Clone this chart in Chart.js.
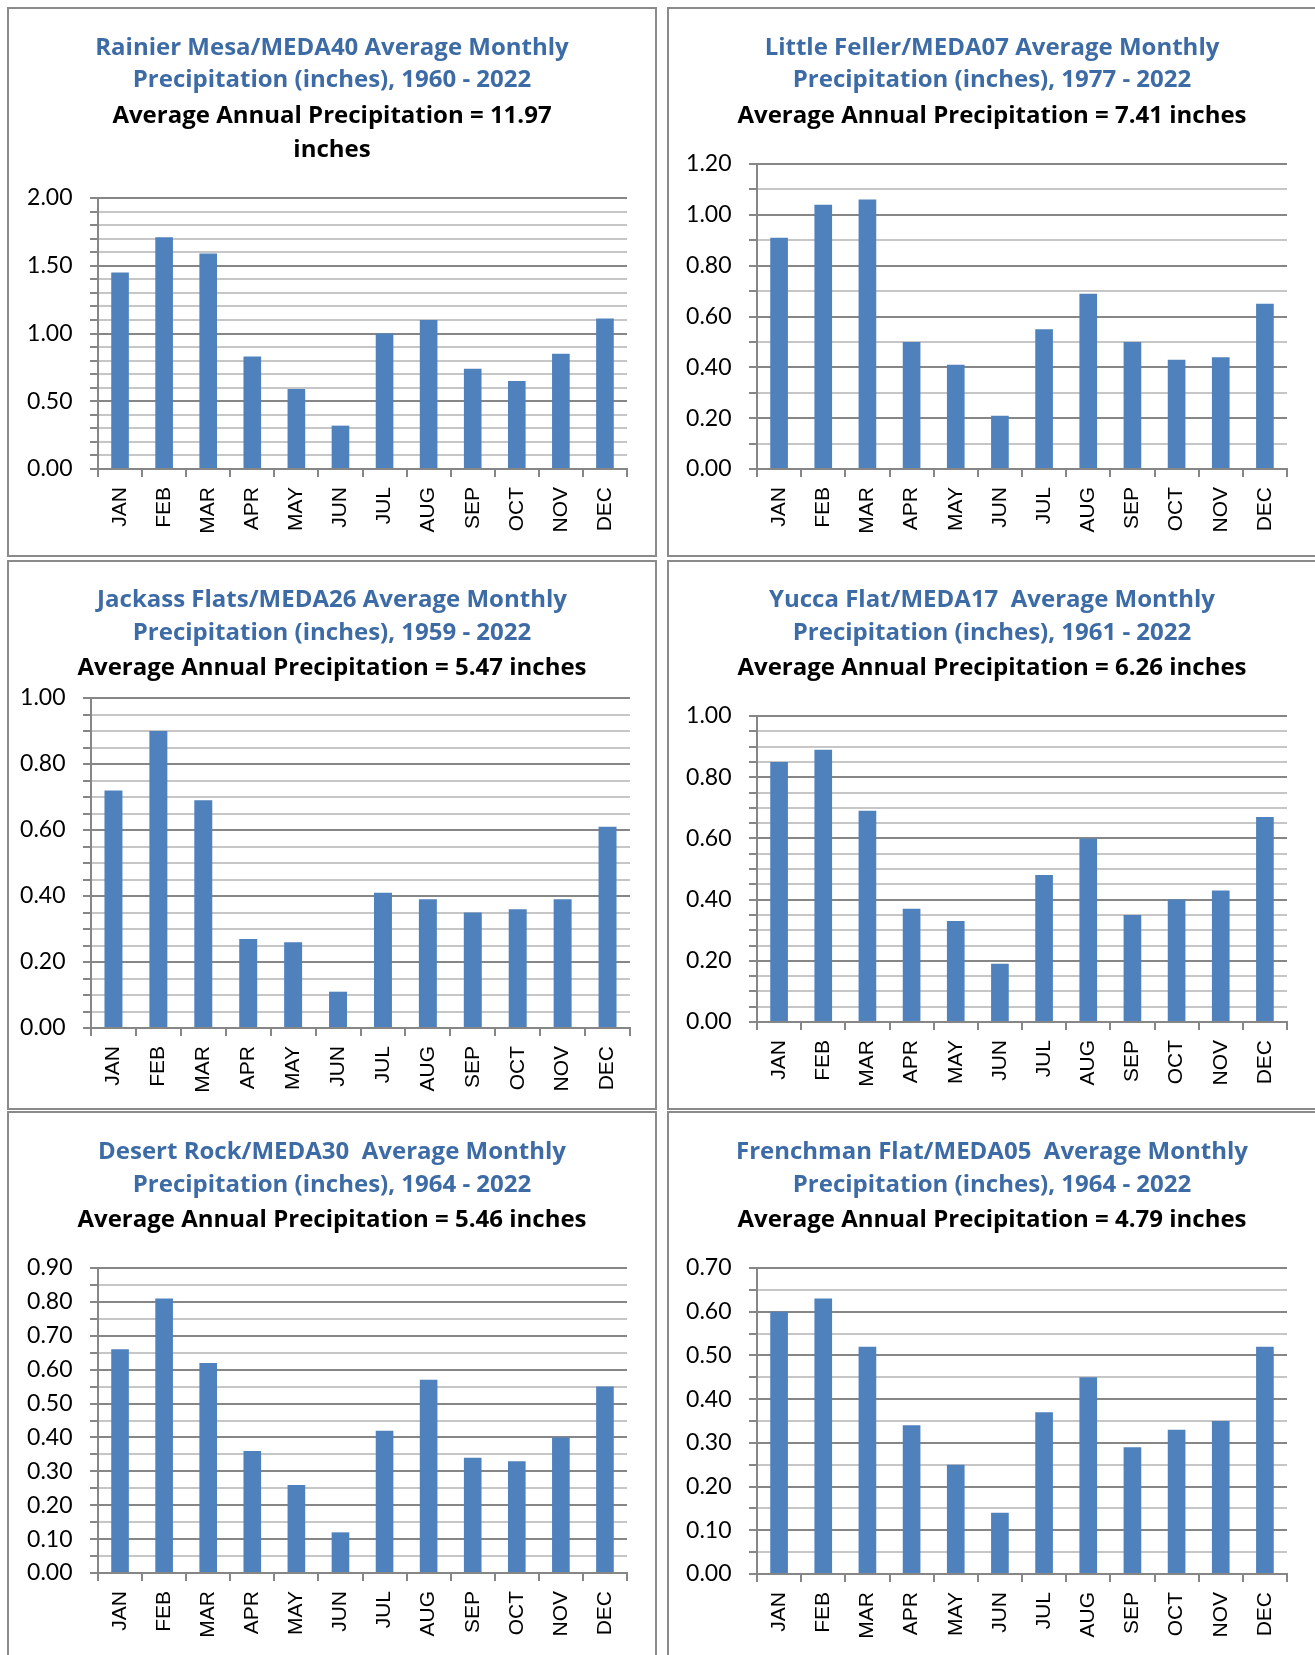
<!DOCTYPE html>
<html>
<head>
<meta charset="utf-8">
<script src="https://cdn.jsdelivr.net/npm/chart.js@4.4.0/dist/chart.umd.min.js"></script>
<style>
  html, body { margin: 0; padding: 0; background: #fff; width: 1315px; height: 1655px; overflow: hidden; }
  .painel { position: absolute; width: 646px; height: 546px; border: 2px solid #8a8a8a; background: #fff; }
  .painel canvas { display: block; }
</style>
</head>
<body>
<div class="painel" style="left:7px;top:7px"><canvas id="g0" width="646" height="546"></canvas></div>
<div class="painel" style="left:667px;top:7px"><canvas id="g1" width="646" height="546"></canvas></div>
<div class="painel" style="left:7px;top:560px"><canvas id="g2" width="646" height="546"></canvas></div>
<div class="painel" style="left:667px;top:560px"><canvas id="g3" width="646" height="546"></canvas></div>
<div class="painel" style="left:7px;top:1111px"><canvas id="g4" width="646" height="546"></canvas></div>
<div class="painel" style="left:667px;top:1111px"><canvas id="g5" width="646" height="546"></canvas></div>
<script>
// Meses (categorias)
const meses = ["JAN", "FEB", "MAR", "APR", "MAY", "JUN", "JUL", "AUG", "SEP", "OCT", "NOV", "DEC"];

// Precipitação média mensal (polegadas) por estação
const rainierMesa = [1.45, 1.71, 1.59, 0.83, 0.59, 0.32, 1.00, 1.10, 0.74, 0.65, 0.85, 1.11];
const littleFeller = [0.91, 1.04, 1.06, 0.50, 0.41, 0.21, 0.55, 0.69, 0.50, 0.43, 0.44, 0.65];
const jackassFlats = [0.72, 0.90, 0.69, 0.27, 0.26, 0.11, 0.41, 0.39, 0.35, 0.36, 0.39, 0.61];
const yuccaFlat = [0.85, 0.89, 0.69, 0.37, 0.33, 0.19, 0.48, 0.60, 0.35, 0.40, 0.43, 0.67];
const desertRock = [0.66, 0.81, 0.62, 0.36, 0.26, 0.12, 0.42, 0.57, 0.34, 0.33, 0.40, 0.55];
const frenchmanFlat = [0.60, 0.63, 0.52, 0.34, 0.25, 0.14, 0.37, 0.45, 0.29, 0.33, 0.35, 0.52];

// Títulos
const titulos = [
  ["Rainier Mesa/MEDA40 Average Monthly", "Precipitation (inches), 1960 - 2022"],
  ["Little Feller/MEDA07 Average Monthly", "Precipitation (inches), 1977 - 2022"],
  ["Jackass Flats/MEDA26 Average Monthly", "Precipitation (inches), 1959 - 2022"],
  ["Yucca Flat/MEDA17  Average Monthly", "Precipitation (inches), 1961 - 2022"],
  ["Desert Rock/MEDA30  Average Monthly", "Precipitation (inches), 1964 - 2022"],
  ["Frenchman Flat/MEDA05  Average Monthly", "Precipitation (inches), 1964 - 2022"],
];
const subtitulos = [
  ["Average Annual Precipitation = 11.97", "inches"],
  ["Average Annual Precipitation = 7.41 inches"],
  ["Average Annual Precipitation = 5.47 inches"],
  ["Average Annual Precipitation = 6.26 inches"],
  ["Average Annual Precipitation = 5.46 inches"],
  ["Average Annual Precipitation = 4.79 inches"],
];

// Eixo Y: máximo, passo principal (rótulos) e passo secundário
const eixoMax = [2.0, 1.2, 1.0, 1.0, 0.9, 0.7];
const passoMaior = [0.5, 0.2, 0.2, 0.2, 0.1, 0.1];
const passoMenor = [0.1, 0.1, 0.05, 0.05, 0.05, 0.05];

const series = [rainierMesa, littleFeller, jackassFlats, yuccaFlat, desertRock, frenchmanFlat];

// Geometria da área de plotagem (coordenadas do canvas)
const geometria = [
  { esq: 89, dir: 618, topo: 189, base: 460, t1: 39.4 },
  { esq: 88, dir: 618, topo: 155, base: 460, t1: 39.4 },
  { esq: 82, dir: 621, topo: 136, base: 466, t1: 38.6 },
  { esq: 88, dir: 618, topo: 154, base: 460, t1: 38.6 },
  { esq: 89, dir: 618, topo: 155, base: 460, t1: 39.6 },
  { esq: 88, dir: 618, topo: 155, base: 461, t1: 39.6 },
];

const LARGURA = 646;
const ALTURA = 546;
const corBarra = "#4f81bd";
const corTitulo = "#3d6ba6";
const corEixo = "#868686";
const corMenor = "#c6c6c6";
const FONTE_TITULO = 24;
const TITULO_LH = 32.2;
const SUB_LH = 34;

function criarGrafico(i) {
  const g = geometria[i];
  const maior = passoMaior[i];
  const ehMaior = (v) => Math.abs(v / maior - Math.round(v / maior)) < 1e-6;
  const padTitulo = g.t1 - TITULO_LH / 2;
  const fimTitulo = padTitulo + TITULO_LH * titulos[i].length;
  const inicioSub = g.t1 + 68 - SUB_LH / 2;
  const fimSub = inicioSub + SUB_LH * subtitulos[i].length;

  return new Chart(document.getElementById("g" + i), {
    type: "bar",
    data: {
      labels: meses,
      datasets: [
        {
          data: series[i],
          backgroundColor: corBarra,
          borderWidth: 0,
          barPercentage: 0.4,
          categoryPercentage: 1.0,
        },
      ],
    },
    options: {
      responsive: false,
      animation: false,
      layout: { padding: 0 },
      plugins: {
        legend: { display: false },
        tooltip: { enabled: false },
        title: {
          display: true,
          text: titulos[i],
          color: corTitulo,
          font: { family: "Open Sans", size: FONTE_TITULO, weight: "bold", lineHeight: TITULO_LH / FONTE_TITULO },
          padding: { top: padTitulo, bottom: 0 },
        },
        subtitle: {
          display: true,
          text: subtitulos[i],
          color: "#000",
          font: { family: "Open Sans", size: FONTE_TITULO, weight: "bold", lineHeight: SUB_LH / FONTE_TITULO },
          padding: { top: inicioSub - fimTitulo, bottom: g.topo - fimSub },
        },
      },
      scales: {
        x: {
          offset: true,
          grid: {
            offset: true,
            drawOnChartArea: false,
            drawTicks: true,
            tickLength: 8,
            color: corEixo,
            lineWidth: 2,
          },
          border: { color: corEixo, width: 2 },
          ticks: {
            color: "#000",
            font: { family: "Liberation Sans", size: 21 },
            minRotation: 90,
            maxRotation: 90,
            autoSkip: false,
            padding: 10,
          },
          afterFit: (s) => { s.height = ALTURA - g.base; },
        },
        y: {
          min: 0,
          max: eixoMax[i],
          grid: {
            color: (ctx) => (ehMaior(ctx.tick.value) ? corEixo : corMenor),
            lineWidth: 2,
            tickLength: 8,
            tickColor: corEixo,
            tickWidth: 2,
          },
          border: { color: corEixo, width: 2 },
          ticks: {
            stepSize: passoMenor[i],
            autoSkip: false,
            color: "#000",
            font: { family: "Lato", size: 23 },
            padding: 17.5,
            callback: (v) => (ehMaior(v) ? v.toFixed(2) : ""),
          },
          afterFit: (s) => { s.width = g.esq; },
        },
        // eixo vazio à direita: reserva a margem e mantém os títulos centrados no painel
        margemDireita: {
          type: "linear",
          position: "right",
          grid: { display: false, drawTicks: false },
          border: { display: false },
          ticks: { display: false },
          afterFit: (s) => { s.width = LARGURA - g.dir; },
        },
      },
    },
  });
}

for (let i = 0; i < 6; i++) criarGrafico(i);
</script>
</body>
</html>
